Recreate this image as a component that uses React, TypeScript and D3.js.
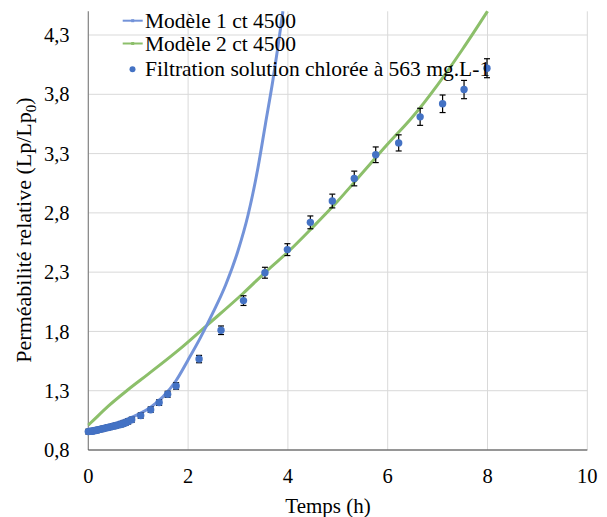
import React from "react";
import * as d3 from "d3";

const xTicks = [0, 2, 4, 6, 8, 10];
const yTicks = [0.8, 1.3, 1.8, 2.3, 2.8, 3.3, 3.8, 4.3];
const yTickLabels = ["0,8", "1,3", "1,8", "2,3", "2,8", "3,3", "3,8", "4,3"];

const model1X = [0, 0.25, 0.5, 0.75, 1.0, 1.25, 1.5, 1.75, 2.0, 2.25, 2.5, 2.75, 3.0, 3.2, 3.4, 3.55, 3.7, 3.8, 3.9];
const model1Y = [0.975, 0.995, 1.02, 1.055, 1.1, 1.16, 1.25, 1.38, 1.56, 1.75, 1.96, 2.19, 2.48, 2.78, 3.18, 3.55, 3.92, 4.2, 4.5];

const model2X = [0, 0.1, 0.4, 0.8, 1.2, 1.8, 2.4, 3.1, 3.6, 4.0, 4.5, 5.0, 5.5, 6.0, 6.5, 7.0, 7.5, 8.0];
const model2Y = [1.01, 1.05, 1.17, 1.31, 1.44, 1.64, 1.86, 2.12, 2.32, 2.47, 2.68, 2.9, 3.14, 3.38, 3.61, 3.88, 4.18, 4.5];

const dataX = [0, 0.03, 0.07, 0.1, 0.13, 0.17, 0.2, 0.25, 0.3, 0.35, 0.4, 0.45, 0.5, 0.55, 0.6, 0.65, 0.7, 0.75, 0.8, 0.87,
  1.05, 1.25, 1.42, 1.59, 1.76, 2.22, 2.66, 3.11, 3.54, 3.99, 4.45, 4.89, 5.33, 5.76, 6.22, 6.65, 7.1, 7.53, 7.99];
const dataY = [0.955, 0.957, 0.958, 0.96, 0.963, 0.966, 0.97, 0.975, 0.98, 0.985, 0.99, 0.995, 1.0, 1.005, 1.01, 1.015, 1.022, 1.03, 1.04, 1.055,
  1.09, 1.14, 1.2, 1.27, 1.34, 1.567, 1.81, 2.06, 2.295, 2.49, 2.72, 2.9, 3.09, 3.29, 3.39, 3.61, 3.72, 3.84, 4.02];
const dataErr = [0.02, 0.02, 0.02, 0.02, 0.02, 0.02, 0.02, 0.02, 0.02, 0.02, 0.02, 0.02, 0.02, 0.02, 0.02, 0.02, 0.02, 0.02, 0.021, 0.021,
  0.022, 0.023, 0.024, 0.025, 0.027, 0.031, 0.036, 0.041, 0.046, 0.05, 0.054, 0.058, 0.062, 0.066, 0.068, 0.072, 0.074, 0.077, 0.08];

const legendLabels = ["Modèle 1 ct 4500", "Modèle 2 ct 4500", "Filtration solution chlorée à 563 mg.L-1"];

const BLUE_LINE = "#7393d9";
const GREEN_LINE = "#8cbf6a";
const DOT = "#4472c4";
const FONT = "Liberation Serif";

export default function App() {
  const W = 607, H = 517;
  const x = d3.scaleLinear().domain([0, 10]).range([88.3, 587.3]);
  const y = d3.scaleLinear().domain([0.8, 4.5]).range([450, 11.3]);
  const line = d3.line<[number, number]>().x(d => x(d[0])).y(d => y(d[1])).curve(d3.curveMonotoneX);
  const m1 = model1X.map((v, i) => [v, model1Y[i]] as [number, number]);
  const m2 = model2X.map((v, i) => [v, model2Y[i]] as [number, number]);
  const ts = { fontFamily: FONT, fill: "#000" } as React.CSSProperties;

  return (
    <svg width={W} height={H} style={{ position: "absolute", left: 0, top: 0, background: "#fff" }}>
      {/* gridlines */}
      {yTicks.map(t => (
        <line key={"gy" + t} x1={x(0)} x2={x(10)} y1={y(t)} y2={y(t)} stroke="#d9d9d9" strokeWidth={1} />
      ))}
      {xTicks.filter(t => t > 0).map(t => (
        <line key={"gx" + t} x1={x(t)} x2={x(t)} y1={y(4.5)} y2={y(0.8)} stroke="#d9d9d9" strokeWidth={1} />
      ))}
      {/* axes */}
      <line x1={x(0)} x2={x(0)} y1={y(4.5)} y2={y(0.8)} stroke="#808080" strokeWidth={1.2} />
      <line x1={x(0)} x2={x(10)} y1={y(0.8)} y2={y(0.8)} stroke="#404040" strokeWidth={1.2} />
      {/* tick labels */}
      {yTicks.map((t, i) => (
        <text key={"ly" + t} x={69.5} y={y(t)} dy="0.35em" textAnchor="end" fontSize={20.5} style={ts}>{yTickLabels[i]}</text>
      ))}
      {xTicks.map(t => (
        <text key={"lx" + t} x={x(t)} y={483} textAnchor="middle" fontSize={20.5} style={ts}>{t}</text>
      ))}
      {/* axis titles */}
      <text x={328} y={512.5} textAnchor="middle" fontSize={21} style={ts}>Temps (h)</text>
      <text transform="translate(31,230) rotate(-90)" textAnchor="middle" fontSize={22} style={ts}>
        Perméabilité relative (Lp/Lp<tspan fontSize={15} dy="5">0</tspan><tspan dy="-5">)</tspan>
      </text>
      {/* model curves */}
      <path d={line(m2) || ""} fill="none" stroke={GREEN_LINE} strokeWidth={3} />
      <path d={line(m1) || ""} fill="none" stroke={BLUE_LINE} strokeWidth={3} />
      {/* error bars */}
      {dataX.map((v, i) => {
        const cx = x(v);
        const y1 = y(dataY[i] + dataErr[i]);
        const y2 = y(dataY[i] - dataErr[i]);
        return (
          <g key={"e" + i} stroke="#000" strokeWidth={1.2}>
            <line x1={cx} x2={cx} y1={y1} y2={y2} />
            <line x1={cx - 3} x2={cx + 3} y1={y1} y2={y1} />
            <line x1={cx - 3} x2={cx + 3} y1={y2} y2={y2} />
          </g>
        );
      })}
      {/* data points */}
      {dataX.map((v, i) => (
        <circle key={"p" + i} cx={x(v)} cy={y(dataY[i])} r={3.7} fill={DOT} />
      ))}
      {/* legend */}
      <g>
        <line x1={122.7} x2={142.7} y1={20.7} y2={20.7} stroke={BLUE_LINE} strokeWidth={2} />
        <rect x={131.2} y={19.2} width={3} height={3} fill={BLUE_LINE} />
        <text x={145} y={27.5} fontSize={21.5} style={ts}>{legendLabels[0]}</text>
        <line x1={122.7} x2={142.7} y1={43.5} y2={43.5} stroke={GREEN_LINE} strokeWidth={2} />
        <rect x={131.2} y={42} width={3} height={3} fill={GREEN_LINE} />
        <text x={145} y={50.5} fontSize={21.5} style={ts}>{legendLabels[1]}</text>
        <circle cx={132.5} cy={69.3} r={3} fill={DOT} />
        <text x={145} y={76} fontSize={21.5} style={ts}>{legendLabels[2]}</text>
      </g>
    </svg>
  );
}
